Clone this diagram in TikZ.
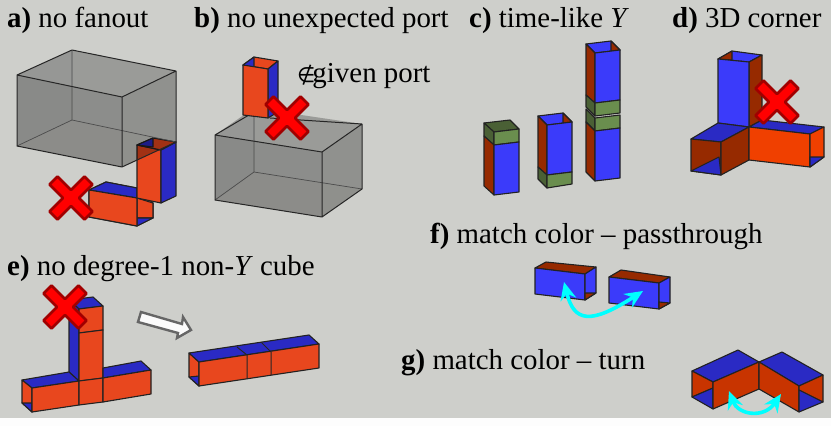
\documentclass[tikz,border=0pt]{standalone}
\usepackage{fontspec}
\setmainfont{Liberation Serif}
\newfontfamily\symfont{DejaVu Sans}
\usetikzlibrary{arrows.meta}
\definecolor{bg}{HTML}{CECFCB}
\definecolor{org}{HTML}{E8471E}
\definecolor{orgb}{HTML}{F04000}
\definecolor{blu}{HTML}{2A2AC4}
\definecolor{brt}{HTML}{3B3BFA}
\definecolor{rdk}{HTML}{962A00}
\definecolor{turn}{HTML}{C83400}
\definecolor{gfr}{HTML}{6A8E4E}
\definecolor{gsd}{HTML}{4A6035}
\definecolor{ink}{HTML}{222222}
\definecolor{cyn}{HTML}{00FFFF}
\definecolor{pure}{HTML}{FF0000}
\definecolor{pured}{HTML}{A00000}
\tikzset{
  face/.style={fill=#1,draw=ink,line width=1.1pt,line join=round},
  edgeline/.style={draw=black!85,line width=1pt,line join=round},
  hidline/.style={draw=black!70,line width=.7pt},
  crossmark/.style={fill=pure,draw=pured,line width=2.6pt,line join=round},
  twoway/.style={draw=cyn,line width=3.6pt,{Stealth[length=18pt,width=16pt,inset=6pt]}-{Stealth[length=18pt,width=16pt,inset=6pt]}},
  capt/.style={anchor=base west,inner sep=0pt,font=\fontsize{28.9pt}{31pt}\selectfont,text=black}
}
\newcommand{\pgn}[2]{\path[face=#1] #2 -- cycle;}
\newcommand{\redx}[2]{\path[crossmark,shift={(#1,#2)}] (0,-8) -- (13.5,-21.5) -- (21.5,-13.5) -- (8,0) -- (21.5,13.5) -- (13.5,21.5) -- (0,8) -- (-13.5,21.5) -- (-21.5,13.5) -- (-8,0) -- (-21.5,-13.5) -- (-13.5,-21.5) -- cycle;}
\begin{document}
\begin{tikzpicture}[x=1pt,y=-1pt]
\useasboundingbox (0,0) rectangle (831,426);
\fill[white!96!bg] (0,0) rectangle (831,426);
\fill[bg] (0,0) rectangle (831,418);
% captions
\node[capt] (capa) at (7,27) {\textbf{a)} no fanout};
\node[capt] (capb) at (194,27) {\textbf{b)} no unexpected port};
\node[capt] (capc) at (469,27) {\textbf{c)} time-like \textit{Y}};
\node[capt] (capd) at (672,27) {\textbf{d)} 3D corner};
\node[capt] (cape) at (7,275) {\textbf{e)} no degree-1 non-\textit{Y} cube};
\node[capt] (capf) at (430,243) {\textbf{f)} match color -- passthrough};
\node[capt] (capg) at (401,369) {\textbf{g)} match color -- turn};
\node[capt] (port) at (297,82) {{\symfont\fontsize{21pt}{24pt}\selectfont ∉}\kern-3pt given port};
% ---- a) tube
\pgn{org}{(89,190) -- (106,182) -- (137,188) -- (153,203) -- (153,218) -- (137,226) -- (89,217)}
\pgn{blu}{(89,190) -- (106,182) -- (137,188) -- (137,198)}
\pgn{org}{(137,198) -- (153,203) -- (153,218) -- (137,218)}
\pgn{blu}{(137,218) -- (153,218) -- (137,226)}
\pgn{org}{(89,190) -- (137,198) -- (137,226) -- (89,217)}
\pgn{org}{(137,145) -- (161,150) -- (161,203) -- (137,198)}
\pgn{blu}{(161,150) -- (176,142) -- (176,196) -- (161,203)}
\pgn{org}{(137,145) -- (153,138) -- (176,142) -- (161,150)}
\pgn{blu}{(137,145) -- (153,138) -- (153,147)}
% a) box
\fill[black,fill opacity=.17] (17,146) -- (72,120) -- (176,142) -- (122,167) -- cycle;
\fill[black,fill opacity=.18] (17,75) -- (72,50) -- (72,120) -- (17,146) -- cycle;
\fill[black,fill opacity=.16] (72,50) -- (176,71) -- (176,142) -- (72,120) -- cycle;
\fill[black,fill opacity=.18] (17,75) -- (122,97) -- (122,167) -- (17,146) -- cycle;
\fill[black,fill opacity=.16] (122,97) -- (176,71) -- (176,142) -- (122,167) -- cycle;
\fill[black,fill opacity=.10] (17,75) -- (72,50) -- (176,71) -- (122,97) -- cycle;
\draw[hidline] (72,50) -- (72,120) -- (17,146) (72,120) -- (176,142);
\draw[edgeline] (17,75) -- (72,50) -- (176,71) -- (122,97) -- cycle (17,75) -- (17,146) -- (122,167) -- (176,142) -- (176,71) (122,97) -- (122,167);
\redx{71}{198}
% ---- b) box
\fill[black,fill opacity=.17] (215,200) -- (254,172) -- (362,189) -- (322,217) -- cycle;
\fill[black,fill opacity=.18] (215,135) -- (254,108) -- (254,172) -- (215,200) -- cycle;
\fill[black,fill opacity=.16] (254,108) -- (362,124) -- (362,189) -- (254,172) -- cycle;
\fill[black,fill opacity=.18] (215,135) -- (322,152) -- (322,217) -- (215,200) -- cycle;
\fill[black,fill opacity=.16] (322,152) -- (362,124) -- (362,189) -- (322,217) -- cycle;
\fill[black,fill opacity=.10] (215,135) -- (254,108) -- (362,124) -- (322,152) -- cycle;
\draw[hidline] (254,108) -- (254,172) -- (215,200) (254,172) -- (362,189);
\draw[edgeline] (215,135) -- (254,112) (270,118) -- (362,124) -- (322,152) -- (215,135) -- (215,200) -- (322,217) -- (362,189) -- (362,124) (322,152) -- (322,217);
% b) tube
\pgn{org}{(243,65) -- (254,57) -- (278,61) -- (268,69)}
\pgn{blu}{(243,65) -- (254,57) -- (254,68)}
\pgn{blu}{(268,69) -- (278,61) -- (278,112) -- (268,118)}
\pgn{org}{(243,65) -- (268,69) -- (268,118) -- (243,115)}
\redx{287}{118}
% ---- c) stack 1
\pgn{gsd}{(484,123) -- (510,120) -- (519,129) -- (494,132)}
\pgn{gsd}{(484,123) -- (494,132) -- (494,145) -- (484,136)}
\pgn{gfr}{(494,132) -- (519,129) -- (519,142) -- (494,145)}
\pgn{rdk}{(484,136) -- (494,145) -- (494,195) -- (484,186)}
\pgn{brt}{(494,145) -- (519,142) -- (519,192) -- (494,195)}
% stack 2
\pgn{brt}{(538,116) -- (563,113) -- (572,122) -- (547,125)}
\pgn{rdk}{(563,113) -- (572,122) -- (563,123)}
\pgn{rdk}{(538,116) -- (547,125) -- (547,175) -- (538,167)}
\pgn{brt}{(547,125) -- (572,122) -- (572,172) -- (547,175)}
\pgn{gsd}{(538,167) -- (547,175) -- (547,188) -- (538,179)}
\pgn{gfr}{(547,175) -- (572,172) -- (572,184) -- (547,188)}
% stack 3 lower
\pgn{gsd}{(586,109) -- (595,118) -- (595,131) -- (586,122)}
\pgn{gfr}{(595,118) -- (620,115) -- (620,128) -- (595,131)}
\pgn{rdk}{(586,122) -- (595,131) -- (595,181) -- (586,172)}
\pgn{brt}{(595,131) -- (620,128) -- (620,178) -- (595,181)}
% stack 3 upper
\pgn{brt}{(586,44) -- (611,41) -- (620,50) -- (595,53)}
\pgn{rdk}{(611,41) -- (620,50) -- (611,51)}
\pgn{rdk}{(586,44) -- (595,53) -- (595,103) -- (586,95)}
\pgn{brt}{(595,53) -- (620,50) -- (620,100) -- (595,103)}
\pgn{gsd}{(586,95) -- (595,103) -- (595,116) -- (586,107)}
\pgn{gfr}{(595,103) -- (620,100) -- (620,113) -- (595,116)}
% ---- d) corner
\pgn{brt}{(718,59) -- (732,51) -- (762,55) -- (749,62)}
\pgn{rdk}{(718,59) -- (732,51) -- (732,60)}
\pgn{rdk}{(749,62) -- (762,55) -- (762,120) -- (749,127)}
\pgn{brt}{(718,59) -- (749,62) -- (749,127) -- (718,123)}
\pgn{blu}{(691,139) -- (718,123) -- (749,127) -- (721,142)}
\pgn{rdk}{(691,139) -- (721,142) -- (721,175) -- (691,171)}
\pgn{blu}{(691,171) -- (719,157) -- (721,175)}
\pgn{rdk}{(721,142) -- (749,127) -- (749,160) -- (721,175)}
\pgn{blu}{(749,127) -- (762,120) -- (824,127) -- (810,134)}
\pgn{orgb}{(749,127) -- (810,134) -- (810,167) -- (749,160)}
\pgn{orgb}{(810,134) -- (824,127) -- (824,157) -- (810,167)}
\pgn{blu}{(810,157) -- (824,157) -- (810,167)}
\redx{777}{102}
% ---- e) T
\pgn{blu}{(69,300) -- (93,297) -- (103,306) -- (79,309)}
\pgn{blu}{(69,300) -- (79,309) -- (79,381) -- (69,372)}
\pgn{org}{(79,309) -- (103,306) -- (103,330) -- (79,333)}
\pgn{org}{(79,333) -- (103,330) -- (103,378) -- (79,381)}
\pgn{blu}{(103,368) -- (141,361) -- (151,370) -- (103,378)}
\pgn{blu}{(22,380) -- (69,372) -- (79,381) -- (32,388)}
\pgn{org}{(22,380) -- (32,388) -- (32,412) -- (22,403)}
\pgn{blu}{(22,403) -- (32,403) -- (32,412)}
\pgn{org}{(32,388) -- (79,381) -- (79,405) -- (32,412)}
\pgn{org}{(79,381) -- (103,378) -- (103,402) -- (79,405)}
\pgn{org}{(103,378) -- (151,370) -- (151,394) -- (103,402)}
\redx{65}{307}
% e) arrow
\path[fill=white!92!bg,draw=black!60,line width=2.4pt,line join=miter] (141,312) -- (138,322) -- (178,333) -- (177,338) -- (191,330) -- (183,317) -- (182,324) -- cycle;
% e) chain
\pgn{org}{(189,353) -- (199,362) -- (199,386) -- (189,377)}
\pgn{blu}{(189,377) -- (199,376) -- (199,386)}
\pgn{blu}{(189,353) -- (309,335) -- (319,344) -- (199,362)}
\pgn{org}{(199,362) -- (319,344) -- (319,368) -- (199,386)}
\draw[edgeline] (237,347) -- (247,355) -- (247,379) (261,342) -- (271,352) -- (271,375);
% ---- f)
\pgn{rdk}{(535,268) -- (546,262) -- (596,267) -- (585,274)}
\pgn{brt}{(535,268) -- (585,274) -- (585,300) -- (535,294)}
\pgn{brt}{(585,274) -- (596,267) -- (596,293) -- (585,300)}
\pgn{rdk}{(585,293) -- (596,293) -- (585,300)}
\pgn{rdk}{(609,277) -- (621,270) -- (670,277) -- (659,283)}
\pgn{brt}{(609,277) -- (659,283) -- (659,309) -- (609,303)}
\pgn{brt}{(659,283) -- (670,277) -- (670,303) -- (659,309)}
\pgn{rdk}{(659,302) -- (670,303) -- (659,309)}
\coordinate (fa) at (564,282);
\coordinate (fb) at (643,291);
\draw[twoway] (fa) .. controls (574,322) and (590,325) .. (fb);
% ---- g)
\pgn{blu}{(692,371) -- (738,350) -- (759,362) -- (713,382)}
\pgn{turn}{(692,371) -- (713,382) -- (713,388) -- (692,397)}
\pgn{blu}{(692,397) -- (713,388) -- (713,409)}
\pgn{turn}{(713,382) -- (759,362) -- (759,389) -- (713,409)}
\pgn{blu}{(759,362) -- (782,352) -- (823,375) -- (799,386)}
\pgn{turn}{(759,362) -- (799,386) -- (799,412) -- (759,389)}
\pgn{turn}{(799,386) -- (823,375) -- (823,402) -- (799,390)}
\pgn{blu}{(799,390) -- (823,402) -- (799,412)}
\coordinate (ga) at (729,391);
\coordinate (gb) at (781,394);
\draw[twoway] (ga) .. controls (738,415) and (764,419) .. (gb);
\end{tikzpicture}
\end{document}
